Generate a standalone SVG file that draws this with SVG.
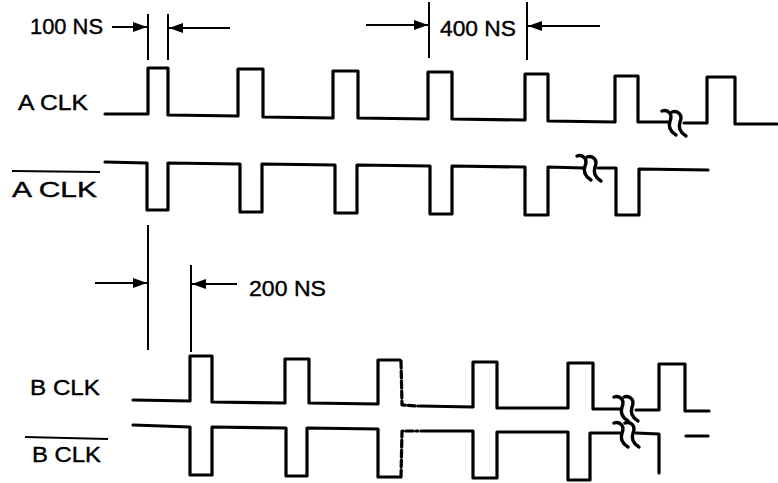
<svg xmlns="http://www.w3.org/2000/svg" width="778" height="483" viewBox="0 0 778 483">
<style>
.wave{fill:none;stroke:#000;stroke-width:3.2;stroke-linejoin:round;stroke-linecap:round}
.brk{fill:none;stroke:#000;stroke-width:3.4;stroke-linecap:round}
.dim{fill:none;stroke:#000;stroke-width:2}
.lbl{font-family:"Liberation Sans",Arial,sans-serif;font-size:22px;fill:#000;stroke:#000;stroke-width:0.4}
.ovl{stroke:#000;stroke-width:2}
</style>
<defs>
<marker id="ah" viewBox="0 0 14 10" refX="14" refY="5" markerWidth="14" markerHeight="10" markerUnits="userSpaceOnUse" orient="auto">
<path d="M0,0 L14,5 L0,10 z" fill="#000"/>
</marker>
<path id="bk" d="M0,0 C6,-2 11,3 8,10 C6,16 9,21 14,24"/>
</defs>
<rect width="778" height="483" fill="#fff"/>

<g id="labels">
<text class="lbl" x="18" y="110" textLength="70" lengthAdjust="spacingAndGlyphs">A CLK</text>
<line class="ovl" x1="12" y1="171" x2="100" y2="172"/>
<text class="lbl" x="12" y="197" textLength="85" lengthAdjust="spacingAndGlyphs">A  CLK</text>
<text class="lbl" x="30" y="395" textLength="70" lengthAdjust="spacingAndGlyphs">B CLK</text>
<line class="ovl" x1="25" y1="437" x2="108" y2="439"/>
<text class="lbl" x="32" y="462" textLength="69" lengthAdjust="spacingAndGlyphs">B CLK</text>
</g>

<g id="aclk">
<path class="wave" d="M105,114 L148,114 L148,68 L168,68 L168,115 L238,116 L238,69 L263,69 L263,117 L333,118 L333,71 L358,71 L358,118 L428,119 L428,72 L452,72 L452,119 L525,120 L525,74 L548,74 L548,121 L615,122 L615,76 L638,76 L638,122 L668,122"/>
<path class="wave" d="M684,123 L707,123 L707,77 L735,77 L735,124 L777,124"/>
<use href="#bk" class="brk" x="662" y="111"/>
<use href="#bk" class="brk" x="672" y="112"/>
</g>

<g id="aclk-bar">
<path class="wave" d="M105,162 L147,163 L147,210 L168,210 L168,163 L240,164 L240,212 L262,212 L262,164 L335,165 L335,213 L357,213 L357,165 L430,166 L430,214 L452,214 L452,166 L525,167 L525,215 L548,215 L548,167 L584,168"/>
<path class="wave" d="M598,168 L616,168 L616,215 L639,215 L639,169 L708,170"/>
<use href="#bk" class="brk" x="577" y="156"/>
<use href="#bk" class="brk" x="587" y="157"/>
</g>

<g id="bclk">
<path class="wave" d="M133,400 L190,401 L190,356 L212,356 L212,402 L285,403 L285,359 L309,359 L309,403 L378,404 L378,360 L400,360"/>
<path class="wave" stroke-dasharray="7 3" d="M401,361 L402,405 L418,406"/>
<path class="wave" d="M420,406 L473,407 L473,362 L497,362 L497,408 L568,408 L568,363 L593,363 L593,409 L620,409"/>
<path class="wave" d="M636,410 L659,410 L659,364 L685,364 L685,411 L709,411"/>
<use href="#bk" class="brk" x="614" y="397"/>
<use href="#bk" class="brk" x="624" y="397"/>
</g>

<g id="bclk-bar">
<path class="wave" d="M133,425 L190,427 L190,475 L212,475 L212,427 L286,428 L286,476 L307,476 L307,428 L378,429 L378,477 L400,477"/>
<path class="wave" stroke-dasharray="7 3" d="M401,477 L402,431 L418,431"/>
<path class="wave" d="M421,431 L473,431 L473,478 L497,478 L497,432 L568,432 L568,480 L590,480 L590,433 L620,433"/>
<path class="wave" d="M636,433 L659,434 L659,473"/>
<path class="wave" d="M686,436 L708,436"/>
<use href="#bk" class="brk" x="614" y="423"/>
<use href="#bk" class="brk" x="625" y="423"/>
</g>

<g id="connectors">
<g id="dim-100ns">
<line class="dim" x1="148" y1="14" x2="148" y2="60"/>
<line class="dim" x1="168" y1="14" x2="168" y2="60"/>
<line class="dim" x1="112" y1="27" x2="147" y2="27" marker-end="url(#ah)"/>
<line class="dim" x1="230" y1="28" x2="169" y2="28" marker-end="url(#ah)"/>
<text class="lbl" x="30" y="34" textLength="73" lengthAdjust="spacingAndGlyphs">100 NS</text>
</g>
<g id="dim-400ns">
<line class="dim" x1="429" y1="2" x2="429" y2="58"/>
<line class="dim" x1="527" y1="2" x2="527" y2="60"/>
<line class="dim" x1="366" y1="25" x2="428" y2="25" marker-end="url(#ah)"/>
<line class="dim" x1="600" y1="26" x2="528" y2="26" marker-end="url(#ah)"/>
<text class="lbl" x="440" y="36" textLength="76" lengthAdjust="spacingAndGlyphs">400 NS</text>
</g>
<g id="dim-200ns">
<line class="dim" x1="148" y1="225" x2="148" y2="350"/>
<line class="dim" x1="191" y1="265" x2="191" y2="352"/>
<line class="dim" x1="95" y1="283" x2="147" y2="283" marker-end="url(#ah)"/>
<line class="dim" x1="237" y1="284" x2="192" y2="284" marker-end="url(#ah)"/>
<text class="lbl" x="249" y="296" textLength="77" lengthAdjust="spacingAndGlyphs">200 NS</text>
</g>
</g>
</svg>
